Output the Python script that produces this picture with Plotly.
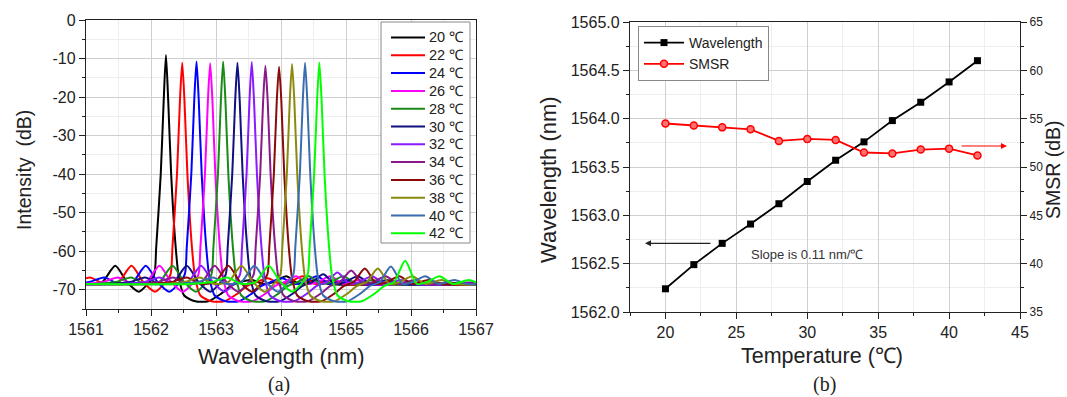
import plotly.graph_objects as go

# ---------------- data: panel (a) ----------------
TEMPS = [20, 22, 24, 26, 28, 30, 32, 34, 36, 38, 40, 42]
SERIES_NAMES = ["20 \u2103", "22 \u2103", "24 \u2103", "26 \u2103", "28 \u2103", "30 \u2103",
                "32 \u2103", "34 \u2103", "36 \u2103", "38 \u2103", "40 \u2103", "42 \u2103"]
SERIES_COLORS = ["#000000", "#ff0000", "#0000ff", "#ff00ff", "#1a8a1a", "#101080",
                 "#8a1aff", "#8a1a8a", "#8a0a0a", "#8a8a10", "#3a6db0", "#00ff00"]
PEAK_WL = [1562.23, 1562.48, 1562.70, 1562.91, 1563.11, 1563.33,
           1563.55, 1563.76, 1563.97, 1564.17, 1564.37, 1564.59]
PEAK_DB = [-9.1, -11.1, -10.8, -11.2, -10.8, -11.1, -10.9, -11.9, -12.1, -11.4, -11.1, -11.0]
RIGHT_SIDELOBE_DB = [-67.5, -67.0, -67.0, -66.5, -66.5, -66.0, -65.5, -65.0, -64.5, -64.5, -64.0, -62.5]

SHAPE_OFFSET = [-4.0, -2.0, -1.65, -1.42, -1.2, -0.98, -0.78, -0.6, -0.42, -0.28, -0.18,
                -0.15, -0.08, -0.035, 0.0, 0.035, 0.08, 0.15, 0.2, 0.28, 0.45, 0.65, 0.85,
                1.0, 1.15, 1.32, 1.5, 1.66, 1.85, 2.05, 2.3, 2.5, 5.0]
SHAPE_DB = [-68.5, -68.5, -68.0, -66.8, -68.5, -68.0, -63.8, -68.0, -70.5, -68.5, -66.0,
            -59.0, -40.0, -21.0, None, -21.0, -40.0, -59.0, -67.0, -71.5, -73.0, -73.0, -71.0,
            -69.0, -68.0, "RSL", -68.5, -68.0, -66.5, -68.5, -67.5, -68.5, -68.0]

X_TICKS_A = [1561, 1562, 1563, 1564, 1565, 1566, 1567]
Y_TICKS_A = [-70, -60, -50, -40, -30, -20, -10, 0]
Y_TICK_LABELS_A = ["-70", "-60", "-50", "-40", "-30", "-20", "-10", "0"]

# ---------------- data: panel (b) ----------------
TEMPERATURE = [20, 22, 24, 26, 28, 30, 32, 34, 36, 38, 40, 42]
WAVELENGTH = [1562.24, 1562.49, 1562.71, 1562.91, 1563.12, 1563.35,
              1563.57, 1563.76, 1563.98, 1564.17, 1564.38, 1564.60]
SMSR = [54.5, 54.3, 54.1, 53.9, 52.7, 52.9, 52.8, 51.5, 51.4, 51.8, 51.9, 51.2]

W, H = 1067, 397
SANS = "Liberation Sans, Arial"
SERIF = "Liberation Serif, Times New Roman"


def px(x):
    return x / W


def py(y):
    return 1 - y / H


fig = go.Figure()

for i, name in enumerate(SERIES_NAMES):
    xs, ys = [], []
    for off, lvl in zip(SHAPE_OFFSET, SHAPE_DB):
        xs.append(PEAK_WL[i] + off)
        if lvl is None:
            ys.append(PEAK_DB[i])
        elif lvl == "RSL":
            ys.append(RIGHT_SIDELOBE_DB[i])
        else:
            ys.append(lvl)
    fig.add_trace(go.Scatter(
        x=xs, y=ys, mode="lines", name=name, showlegend=False,
        line=dict(color=SERIES_COLORS[i], width=2, shape="spline", smoothing=0.7),
        xaxis="x", yaxis="y",
    ))

fig.add_trace(go.Scatter(
    x=TEMPERATURE, y=WAVELENGTH, mode="lines+markers", name="Wavelength",
    line=dict(color="black", width=1.8),
    marker=dict(symbol="square", size=7, color="black"),
    xaxis="x2", yaxis="y2", legend="legend2",
))
fig.add_trace(go.Scatter(
    x=TEMPERATURE, y=SMSR, mode="lines+markers", name="SMSR",
    line=dict(color="#ff0000", width=1.8),
    marker=dict(symbol="circle", size=7, color="#ff7070", line=dict(color="#ff0000", width=1.5)),
    xaxis="x2", yaxis="y3", legend="legend2",
))

axis_common = dict(
    showline=True, linecolor="#222", linewidth=1.3, mirror=True,
    ticks="outside", ticklen=6, tickwidth=1.2, tickcolor="#222",
    showgrid=True, gridcolor="#cfcfcf", gridwidth=1, zeroline=False, automargin=False,
    tickfont=dict(family=SANS, size=16, color="#222"),
)
minor_common = dict(ticks="outside", ticklen=3, tickcolor="#222", showgrid=True, gridcolor="#eeeeee")

fig.update_layout(
    width=W, height=H, autosize=False,
    margin=dict(l=0, r=0, t=0, b=0, autoexpand=False),
    paper_bgcolor="white", plot_bgcolor="white",
    font=dict(family=SANS, color="#222"),
    xaxis=dict(axis_common, domain=[px(86), px(476)], range=[1561, 1567],
               tickvals=X_TICKS_A, minor=dict(minor_common, dtick=0.5, tick0=1561),
               anchor="y"),
    yaxis=dict(axis_common, domain=[py(309), py(20)], range=[-75, 0],
               tickvals=Y_TICKS_A, ticktext=Y_TICK_LABELS_A,
               minor=dict(minor_common, dtick=5, tick0=0), anchor="x"),
    xaxis2=dict(axis_common, domain=[px(630), px(1020)], range=[17.5, 45],
                dtick=5, tick0=20, minor=dict(minor_common, dtick=2.5, tick0=20),
                anchor="y2"),
    yaxis2=dict(axis_common, domain=[py(312), py(22)], range=[1562, 1565],
                dtick=0.5, tick0=1562, tickformat=".1f",
                minor=dict(minor_common, dtick=0.25, tick0=1562), anchor="x2"),
    yaxis3=dict(showline=True, linecolor="#222", linewidth=1.3, automargin=False,
                ticks="outside", ticklen=6, tickwidth=1.2, tickcolor="#222",
                showgrid=False, zeroline=False, range=[35, 65], dtick=5, tick0=35,
                tickfont=dict(family=SANS, size=12, color="#222"),
                minor=dict(ticks="outside", ticklen=3, tickcolor="#222", dtick=2.5, showgrid=False),
                overlaying="y2", side="right", anchor="x2"),
    legend2=dict(x=px(638), y=py(26), xanchor="left", yanchor="top",
                 bgcolor="white", bordercolor="#888", borderwidth=1,
                 font=dict(family=SANS, size=14, color="#222"),
                 itemwidth=40),
    showlegend=True,
)

# legend box for panel (a), built from the series names/colours
LEG_X0, LEG_X1, LEG_Y0, LEG_Y1 = 381, 470, 22, 243
ROW0, ROW_STEP = 37.5, 17.8
fig.add_shape(type="rect", xref="paper", yref="paper",
              x0=px(LEG_X0), x1=px(LEG_X1), y0=py(LEG_Y1), y1=py(LEG_Y0),
              line=dict(color="#888", width=1), fillcolor="white", layer="above")
for i, (name, col) in enumerate(zip(SERIES_NAMES, SERIES_COLORS)):
    yy = ROW0 + i * ROW_STEP
    fig.add_shape(type="line", xref="paper", yref="paper",
                  x0=px(391), x1=px(425), y0=py(yy), y1=py(yy),
                  line=dict(color=col, width=2), layer="above")
    fig.add_annotation(text=name, x=px(427), y=py(yy), xref="paper", yref="paper",
                       showarrow=False, xanchor="left", yanchor="middle",
                       font=dict(family=SANS, size=14.5, color="#222"))

annots = [
    dict(text="Intensity  (dB)", x=px(24), y=py(170), textangle=-90, size=19.5),
    dict(text="Wavelength (nm)", x=px(281), y=py(356), textangle=0, size=22),
    dict(text="(a)", x=px(279), y=py(384), textangle=0, size=20, serif=True),
    dict(text="Wavelength (nm)", x=px(548), y=py(180), textangle=-90, size=22),
    dict(text="SMSR (dB)", x=px(1053), y=py(170), textangle=-90, size=19.5),
    dict(text="Temperature (\u2103)", x=px(822), y=py(356), textangle=0, size=21.5),
    dict(text="(b)", x=px(824), y=py(384), textangle=0, size=20, serif=True),
]
for a in annots:
    fig.add_annotation(
        text=a["text"], x=a["x"], y=a["y"], xref="paper", yref="paper",
        showarrow=False, textangle=a["textangle"], xanchor="center", yanchor="middle",
        font=dict(family=SERIF if a.get("serif") else SANS, size=a["size"], color="#222"),
    )

fig.add_annotation(text="Slope is 0.11 nm/\u2103", x=30.0, y=1562.59, xref="x2", yref="y2",
                   showarrow=False, font=dict(family=SANS, size=13, color="#333"))
fig.add_annotation(text="", x=18.56, y=1562.71, ax=23.28, ay=1562.71, xref="x2", yref="y2",
                   axref="x2", ayref="y2", showarrow=True, arrowhead=2, arrowsize=1,
                   arrowwidth=1.2, arrowcolor="#222")
fig.add_annotation(text="", x=44.08, y=52.17, ax=40.77, ay=52.17, xref="x2", yref="y3",
                   axref="x2", ayref="y3", showarrow=True, arrowhead=2, arrowsize=1,
                   arrowwidth=1.2, arrowcolor="#ff0000")

fig.write_html("out.html", config={"displayModeBar": False},
               post_script="document.body.style.margin='0';document.body.style.overflow='hidden';")
